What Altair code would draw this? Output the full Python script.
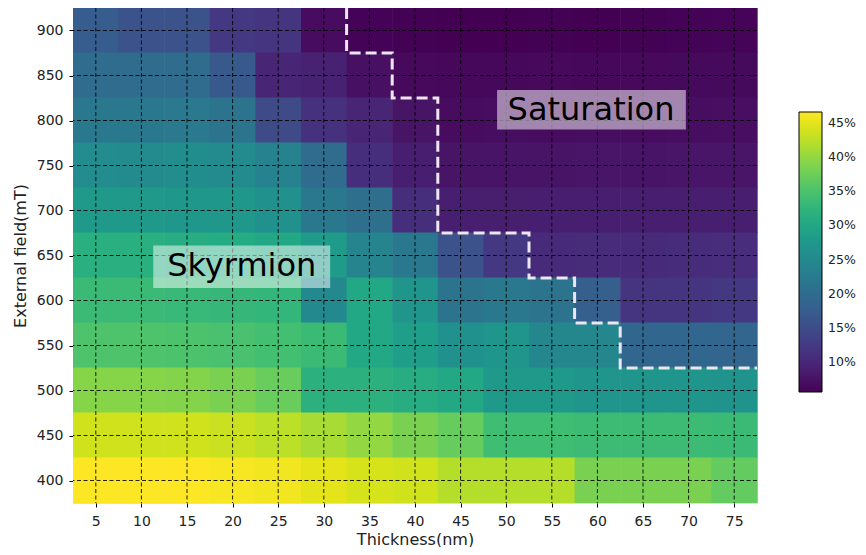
import altair as alt
import pandas as pd

# ---------------- data ----------------
thickness = [5, 10, 15, 20, 25, 30, 35, 40, 45, 50, 55, 60, 65, 70, 75]          # nm (cell centres)
field = [900, 850, 800, 750, 700, 650, 600, 550, 500, 450, 400]                  # mT (cell centres)

# skyrmion density (%) per cell, rows = field (top -> bottom), cols = thickness
values = [
    [17.5, 15.9, 15.9, 12.2, 11.8, 6.8, 5.8, 5.7, 5.6, 5.6, 5.7, 5.6, 5.7, 5.8, 5.9],
    [20.0, 20.0, 20.0, 17.0, 9.7, 9.3, 7.2, 6.4, 6.3, 6.3, 6.4, 6.3, 6.4, 6.5, 6.5],
    [22.0, 22.0, 22.2, 21.2, 14.6, 11.3, 9.7, 7.6, 6.8, 6.9, 6.8, 6.9, 6.8, 6.9, 7.0],
    [25.3, 25.0, 25.5, 25.0, 23.6, 20.0, 10.9, 8.9, 7.6, 7.7, 7.6, 7.8, 7.7, 7.8, 7.8],
    [27.7, 27.7, 27.3, 27.3, 26.1, 22.0, 20.4, 10.9, 8.9, 8.8, 8.9, 8.9, 9.0, 8.9, 9.0],
    [31.4, 31.4, 31.0, 30.8, 30.2, 28.2, 24.0, 22.0, 15.9, 12.2, 10.5, 10.6, 10.5, 10.7, 10.8],
    [33.5, 33.5, 33.2, 33.0, 32.7, 24.9, 30.2, 26.9, 21.2, 22.0, 21.2, 17.9, 11.8, 11.8, 12.2],
    [35.2, 35.2, 35.0, 34.8, 34.3, 33.5, 30.2, 28.6, 26.1, 26.9, 24.5, 24.5, 19.1, 19.1, 19.0],
    [39.2, 39.2, 39.0, 38.4, 37.2, 31.8, 31.8, 31.0, 30.2, 27.7, 27.7, 26.9, 26.9, 26.9, 26.7],
    [43.7, 43.7, 43.7, 43.3, 42.5, 41.3, 40.0, 38.4, 37.0, 33.9, 33.9, 33.7, 33.7, 33.7, 33.5],
    [46.6, 46.6, 46.6, 46.2, 45.8, 45.0, 44.1, 43.7, 42.1, 42.1, 42.1, 38.4, 38.4, 38.4, 36.8],
]

# phase boundary (Skyrmion / Saturation)
boundary_t = [32.5, 32.5, 37.5, 37.5, 42.5, 42.5, 52.5, 52.5, 57.5, 57.5, 62.5, 62.5, 77.5]
boundary_f = [925, 875, 875, 825, 825, 675, 675, 625, 625, 575, 575, 525, 525]

# region labels and their boxes (data units)
label_text = ["Skyrmion", "Saturation"]
label_t = [21.0, 59.3]
label_f = [638, 812]
box_t0 = [11.3, 49.0]
box_t1 = [30.7, 69.7]
box_f0 = [614, 790]
box_f1 = [661, 834]

x_ticks = [5, 10, 15, 20, 25, 30, 35, 40, 45, 50, 55, 60, 65, 70, 75]
y_ticks = [400, 450, 500, 550, 600, 650, 700, 750, 800, 850, 900]
cbar_ticks = [10, 15, 20, 25, 30, 35, 40, 45]
color_domain = [5.6, 46.6]
x_domain = [2.5, 77.5]
y_domain = [375, 925]

# ---------------- tables ----------------
dt = (thickness[1] - thickness[0]) / 2
df_ = (field[0] - field[1]) / 2
cells = []
for i, f in enumerate(field):
    for j, t in enumerate(thickness):
        cells.append({"t0": t - dt, "t1": t + dt, "f0": f - df_, "f1": f + df_, "v": values[i][j]})
cells = pd.DataFrame(cells)
bnd = pd.DataFrame({"t": boundary_t, "f": boundary_f, "o": list(range(len(boundary_t)))})
labels = pd.DataFrame({"text": label_text, "t": label_t, "f": label_f,
                       "t0": box_t0, "t1": box_t1, "f0": box_f0, "f1": box_f1})
xg = pd.DataFrame({"t": x_ticks})
yg = pd.DataFrame({"f": y_ticks})

FONT = "DejaVu Sans"
xscale = alt.Scale(domain=x_domain, nice=False, zero=False)
yscale = alt.Scale(domain=y_domain, nice=False, zero=False)
cscale = alt.Scale(scheme="viridis", domain=color_domain, clamp=True)

xaxis = alt.Axis(title="Thickness(nm)", values=x_ticks, grid=False, domain=False,
                 tickColor="black", tickSize=4, labelPadding=7, labelFontSize=14,
                 labelColor="#222", titleFontSize=16, titleColor="#222",
                 titleFontWeight="normal", titlePadding=3, labelFont=FONT, titleFont=FONT)
yaxis = alt.Axis(title="External field(mT)", values=y_ticks, grid=False, domain=False,
                 tickColor="black", tickSize=4, labelPadding=6, labelFontSize=14,
                 labelColor="#222", titleFontSize=16, titleColor="#222",
                 titleFontWeight="normal", titlePadding=8, labelFont=FONT, titleFont=FONT)

heat = alt.Chart(cells).mark_rect(strokeWidth=0, x2Offset=0.6, y2Offset=-0.6).encode(
    x=alt.X("t0:Q", scale=xscale, axis=xaxis),
    x2="t1:Q",
    y=alt.Y("f0:Q", scale=yscale, axis=yaxis),
    y2="f1:Q",
    color=alt.Color("v:Q", scale=cscale,
                    legend=alt.Legend(title=None, orient="none", legendX=726, legendY=104,
                                      direction="vertical", gradientLength=280,
                                      gradientThickness=23, gradientStrokeColor="black",
                                      gradientStrokeWidth=1, values=cbar_ticks,
                                      labelExpr="datum.value + '%'", labelFontSize=12.5,
                                      labelFont=FONT, labelColor="#222", labelOffset=6)),
)

vgrid = alt.Chart(xg).mark_rule(color="black", strokeDash=[4, 2.5], strokeWidth=1, opacity=0.85).encode(
    x=alt.X("t:Q", scale=xscale))
hgrid = alt.Chart(yg).mark_rule(color="black", strokeDash=[4, 2.5], strokeWidth=1, opacity=0.85).encode(
    y=alt.Y("f:Q", scale=yscale))

line = alt.Chart(bnd).mark_line(color="#ebe6f0", strokeWidth=3, strokeDash=[11, 5], interpolate="linear").encode(
    x=alt.X("t:Q", scale=xscale), y=alt.Y("f:Q", scale=yscale), order="o:Q")

boxes = alt.Chart(labels).mark_rect(fill="white", opacity=0.5).encode(
    x=alt.X("t0:Q", scale=xscale), x2="t1:Q", y=alt.Y("f0:Q", scale=yscale), y2="f1:Q")

texts = alt.Chart(labels).mark_text(fontSize=32, font=FONT, color="black", baseline="middle").encode(
    x=alt.X("t:Q", scale=xscale), y=alt.Y("f:Q", scale=yscale), text="text:N")

chart = alt.layer(heat, vgrid, hgrid, line, boxes, texts).properties(
    width=684, height=495,
    padding={"left": 65, "top": 0, "right": 101, "bottom": 44},
    autosize=alt.AutoSizeParams(type="none"),
).configure_view(stroke="black", strokeWidth=1.2).configure(background="white")

chart.save("out.html", embed_options={"renderer": "svg", "actions": False})
